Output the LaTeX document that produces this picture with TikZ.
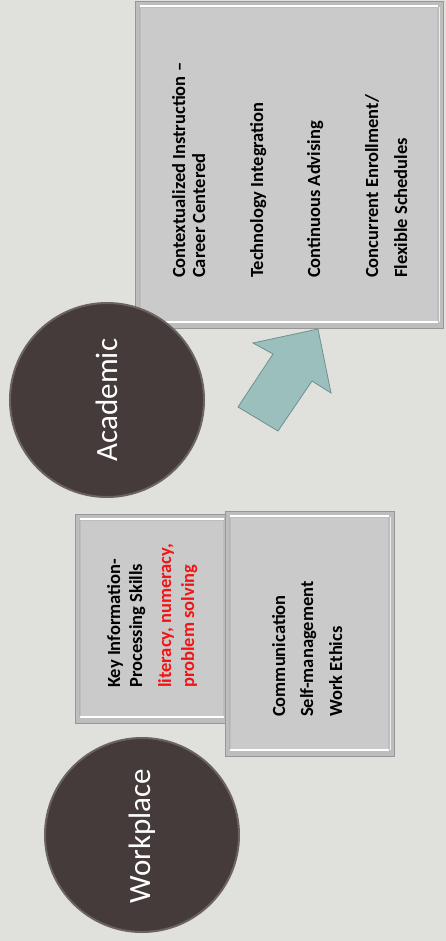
\documentclass[tikz,border=0pt]{standalone}
\usepackage{fontspec}
\setmainfont{Carlito}
\definecolor{bg}{HTML}{E0E1DC}
\definecolor{boxface}{HTML}{CACACA}
\definecolor{boxrim}{HTML}{BDBDBD}
\definecolor{boxline}{HTML}{979797}
\definecolor{disc}{HTML}{453B3B}
\definecolor{discrim}{HTML}{6B6262}
\definecolor{arrowfill}{HTML}{9BBFBD}
\definecolor{arrowline}{HTML}{6E918F}
\definecolor{hired}{HTML}{F21414}
\tikzset{
  bevelbox/.style={fill=boxrim, draw=boxline, line width=0.8pt},
  discnode/.style={circle, fill=disc, draw=discrim, line width=2pt, minimum size=194pt, inner sep=0pt},
  disclabel/.style={rotate=90, anchor=base, inner sep=0pt, text=white, font=\fontsize{31}{36}\selectfont},
  itemtext/.style={rotate=90, anchor=base west, inner sep=0pt, font=\fontsize{18.5}{22}\selectfont\bfseries},
  redtext/.style={itemtext, text=hired},
}
\newcommand{\bevel}[4]{%
  \fill[boxface] (#1+6,#2+7) rectangle (#3-6,#4-7);
  \draw[white, line width=2pt] (#1+5,#2+5) -- (#3-5,#2+5);
  \draw[white, line width=2pt] (#1+5,#4-6) -- (#3-5,#4-6);
  \draw[white!85!gray, line width=1pt] (#3-4,#2+6) -- (#3-4,#4-6);
  \draw[gray!60, line width=0.6pt] (#1+4,#2+6) -- (#1+4,#4-6);
}
\begin{document}
\begin{tikzpicture}[x=1pt, y=-1pt]
\useasboundingbox (0,0) rectangle (446,941);
\fill[bg] (0,0) rectangle (446,941);

% academic box
\draw[bevelbox] (135,1) rectangle (443,328);
\bevel{135}{1}{443}{328}
\node[itemtext] (a1) at (185,278) {Contextualized Instruction –};
\node[itemtext] (a2) at (205,278) {Career Centered};
\node[itemtext] (a3) at (263,278) {Technology Integration};
\node[itemtext] (a4) at (320,278) {Continuous Advising};
\node[itemtext] (a5) at (378,278) {Concurrent Enrollment/};
\node[itemtext] (a6) at (407,278) {Flexible Schedules};

% arrow
\draw[fill=arrowfill, draw=arrowline, line width=0.8pt, line join=miter]
  (318,329) -- (331,393) -- (312,381) -- (278,431) -- (238,407) -- (273,354) -- (253,343) -- cycle;

% academic disc
\node[discnode] (acad) at (107,400) {};
\node[disclabel] (acadt) at (117,400) {Academic};

% key info box
\draw[bevelbox] (75,514) rectangle (229,723);
\bevel{75}{514}{229}{723}
\node[itemtext] (k1) at (120,688) {Key Information-};
\node[itemtext] (k2) at (142,688) {Processing Skills};
\node[redtext] (k3) at (171,688) {literacy, numeracy,};
\node[redtext] (k4) at (194,688) {problem solving};

% communication box
\draw[bevelbox] (225,511) rectangle (394,756);
\bevel{225}{511}{394}{756}
\node[itemtext] (c1) at (285,717) {Communication};
\node[itemtext] (c2) at (313,717) {Self-management};
\node[itemtext] (c3) at (342,717) {Work Ethics};

% workplace disc
\node[discnode] (work) at (142,835) {};
\node[disclabel] (workt) at (150,836) {Workplace};
\end{tikzpicture}
\end{document}
